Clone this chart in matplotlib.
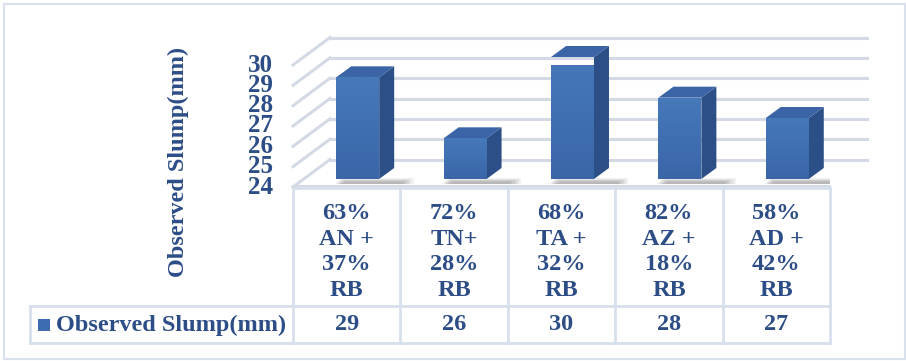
import numpy as np
import matplotlib
matplotlib.use("Agg")
import matplotlib.pyplot as plt
from matplotlib.patches import Polygon, Rectangle
from matplotlib.lines import Line2D
import matplotlib.transforms as mtransforms

# slump results for each mix
categories = ["63%\nAN +\n37%\nRB",
              "72%\nTN+\n28%\nRB",
              "68%\nTA +\n32%\nRB",
              "82%\nAZ +\n18%\nRB",
              "58%\nAD +\n42%\nRB"]
slump = [29, 26, 30, 28, 27]
series_name = "Observed Slump(mm)"
y_ticks = [24, 25, 26, 27, 28, 29, 30]

TXT = "#2c4d86"
GRID = "#d3dae5"
BORDER = "#d6e0ec"
FONT = "Liberation Serif"
FS = 17.5

W, H = 906, 361
fig = plt.figure(figsize=(W / 100, H / 100), dpi=100)

def fx(px):
    return px / W

def fy(py):
    return 1 - py / H

# front plane of the 3d box
ax = fig.add_axes([fx(293), fy(187), fx(830) - fx(293), fy(65) - fy(187)])
ax.set_xlim(-0.5, len(slump) - 0.5)
ax.set_ylim(y_ticks[0], y_ticks[-1])
ax.axis("off")

def shift(dx, dy):
    # offset in pixels (depth direction of the box)
    return ax.transData + mtransforms.ScaledTranslation(dx / 100, -dy / 100, fig.dpi_scale_trans)

DEPTH = (37, -27.5)
x0, x1 = ax.get_xlim()
inv_fig = fig.transFigure.inverted()

# gridlines: slanted on the left, flat along the back wall
for v in y_ticks:
    back = shift(*DEPTH)
    ax.plot([x0, x1], [v, v], color=GRID, lw=2.2, transform=back, clip_on=False, zorder=1)
    a = inv_fig.transform(ax.transData.transform((x0, v)))
    b = inv_fig.transform(back.transform((x0, v)))
    fig.add_artist(Line2D([a[0], b[0]], [a[1], b[1]], color=GRID, lw=2.2, zorder=1))
    ax.text(x0, v, str(v), transform=shift(-20, 0), ha="right", va="center",
            fontsize=FS + 0.5, fontweight="bold", family=FONT, color=TXT)

# floor front edge
ax.plot([x0, x1], [24, 24], color=GRID, lw=1.5, transform=shift(0, -1.5), clip_on=False, zorder=1)

# bars
bw = 0.40
f_off = (11, -8)
b_off = (26, -19)
grad = np.linspace(0, 1, 64).reshape(-1, 1)
cmap_front = matplotlib.colors.LinearSegmentedColormap.from_list("f", ["#3a66a8", "#4679ba"])
inv = ax.transData.inverted()
for i, v in enumerate(slump):
    xl, xr = i - bw / 2, i + bw / 2
    base = y_ticks[0]
    # soft shadow on the floor, layered to fake a blur
    for g in range(6, 0, -1):
        poly = Polygon([(xl + 0.06 - 0.012 * g, base), (xr + 0.20 + 0.02 * g, base),
                        (xr + 0.20 + 0.02 * g, base + 0.08 + 0.035 * g),
                        (xl + 0.10 - 0.01 * g, base + 0.08 + 0.035 * g)],
                       closed=True, facecolor="#3a3a3a", edgecolor="none", alpha=0.07,
                       transform=shift(f_off[0], f_off[1] + 5), zorder=2)
        ax.add_patch(poly)
    # front face with vertical gradient
    front = Polygon([(xl, base), (xr, base), (xr, v), (xl, v)], closed=True,
                    facecolor="none", edgecolor="none", transform=shift(*f_off), zorder=4)
    ax.add_patch(front)
    im = ax.imshow(grad, cmap=cmap_front, extent=(xl, xr, base, v), origin="lower",
                   aspect="auto", interpolation="bilinear", zorder=4)
    im.set_transform(shift(*f_off))
    im.set_clip_path(front)
    # side face
    pf_b = shift(*f_off).transform((xr, base))
    pf_t = shift(*f_off).transform((xr, v))
    pb_b = shift(*b_off).transform((xr, base))
    pb_t = shift(*b_off).transform((xr, v))
    side = Polygon(inv.transform([pf_b, pb_b, pb_t, pf_t]), closed=True,
                   facecolor="#2c4f88", edgecolor="none", zorder=3, clip_on=False)
    ax.add_patch(side)
    # top face
    tl_f = shift(*f_off).transform((xl, v))
    tl_b = shift(*b_off).transform((xl, v))
    top = Polygon(inv.transform([tl_f, pf_t, pb_t, tl_b]), closed=True,
                  facecolor="#3a64a6", edgecolor="none", zorder=3, clip_on=False)
    ax.add_patch(top)

ax.set_xlim(x0, x1)
ax.set_ylim(y_ticks[0], y_ticks[-1])

# y axis title
fig.text(fx(178), fy(162), series_name, rotation=90, ha="center", va="center",
         fontsize=FS, fontweight="bold", family=FONT, color=TXT)

# data table below the box
tb = mtransforms.blended_transform_factory(ax.transData, fig.transFigure)
y_top, y_mid, y_bot = fy(188), fy(306), fy(343)
x_right = ax.transData.transform((x1, 0))[0] / W
for k in range(len(slump) + 1):
    xb = x0 + k
    ax.plot([xb, xb], [y_top, y_bot], color=BORDER, lw=2, transform=tb, clip_on=False)
ax.plot([x0, x1], [y_top, y_top], color=BORDER, lw=2, transform=tb, clip_on=False)
fig.add_artist(Line2D([fx(30), x_right], [y_mid, y_mid], color=BORDER, lw=2))
fig.add_artist(Line2D([fx(30), x_right], [y_bot, y_bot], color=BORDER, lw=2))
fig.add_artist(Line2D([fx(30), fx(30)], [y_mid, y_bot], color=BORDER, lw=2))

for i, (c, v) in enumerate(zip(categories, slump)):
    ax.text(i, fy(252), c, transform=tb, ha="center", va="center", linespacing=1.3,
            fontsize=FS, fontweight="bold", family=FONT, color=TXT)
    ax.text(i, fy(325), str(v), transform=tb, ha="center", va="center",
            fontsize=FS, fontweight="bold", family=FONT, color=TXT)

fig.add_artist(Rectangle((fx(38), fy(331)), fx(12), 12 / H, facecolor="#3d6cb0",
                         edgecolor="none"))
fig.text(fx(56), fy(325), series_name, ha="left", va="center",
         fontsize=FS, fontweight="bold", family=FONT, color=TXT)

# outer chart border
fig.add_artist(Rectangle((fx(3.5), fy(358.5)), fx(901), 355 / H, facecolor="none",
                         edgecolor="#d9e1ec", lw=1.5))

fig.savefig("out.png", dpi=100)
